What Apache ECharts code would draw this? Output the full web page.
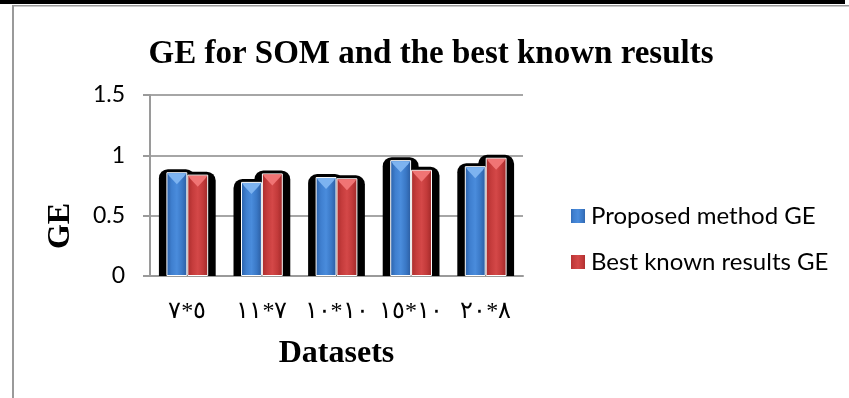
<!DOCTYPE html>
<html>
<head>
<meta charset="utf-8">
<style>
  html, body { margin: 0; padding: 0; background: #ffffff; }
  #chart { width: 849px; height: 398px; }
</style>
<script src="https://cdn.jsdelivr.net/npm/echarts@6/dist/echarts.min.js"></script>
</head>
<body>
<div id="chart"></div>
<script>
// Map sizes of the datasets (Arabic-Indic numerals)
const categories = ['٥*٧', '٧*١١', '١٠*١٠', '١٠*١٥', '٨*٢٠'];
const proposedGE = [0.86, 0.78, 0.82, 0.96, 0.91];
const bestKnownGE = [0.84, 0.85, 0.81, 0.88, 0.98];
const yTicks = { min: 0, max: 1.5, interval: 0.5 };

const seriesNames = ['Proposed method GE', 'Best known results GE'];
const BAR_FRAC = 0.28;   // width of one bar as a fraction of the category band

const chart = echarts.init(document.getElementById('chart'));

function hGrad(stops) {
  return new echarts.graphic.LinearGradient(0, 0, 1, 0,
    stops.map((c, i) => ({ offset: i / (stops.length - 1), color: c })));
}
const blueFill = hGrad(['#2a5fa6', '#3f7fcf', '#4a8cdc', '#3a78c6', '#2b5b9e']);
const redFill = hGrad(['#a82c2c', '#c53c3c', '#d44848', '#c23a3a', '#9e2828']);

// dark rounded halo drawn behind each bar
function shadowRenderer(side) {
  return function (params, api) {
    const band = api.size([1, 0])[0];
    const w = band * BAR_FRAC;
    const top = api.coord([api.value(0), api.value(1)]);
    const base = api.coord([api.value(0), 0]);
    const cx = top[0] + side * w / 2;
    const pad = 7.5;
    return {
      type: 'rect',
      shape: { x: cx - w / 2 - pad, y: top[1] - 3, width: w + 2 * pad, height: base[1] - top[1] + 3, r: [9, 9, 0, 0] },
      style: { fill: '#000000' }
    };
  };
}

// light bevel triangle at the top of each bar
function bevelRenderer(side, light) {
  return function (params, api) {
    const band = api.size([1, 0])[0];
    const w = band * BAR_FRAC;
    const top = api.coord([api.value(0), api.value(1)]);
    const cx = top[0] + side * w / 2;
    const l = cx - w / 2 + 1, r = cx + w / 2 - 1, y = top[1] + 1;
    return {
      type: 'polygon',
      shape: { points: [[l, y], [r, y], [r - 2, y + 3], [cx, y + 11], [l + 2, y + 3]] },
      style: { fill: light }
    };
  };
}

const idxData = (vals) => vals.map((v, i) => [i, v]);

chart.setOption({
  animation: false,
  backgroundColor: '#ffffff',
  title: {
    text: 'GE for SOM and the best known results',
    left: 426, top: 33, textAlign: 'center',
    textStyle: { fontFamily: 'Liberation Serif', fontWeight: 'bold', fontSize: 33, color: '#000000' }
  },
  legend: {
    orient: 'vertical',
    left: 564, top: 199,
    itemWidth: 16, itemHeight: 16, itemGap: 22,
    icon: 'rect',
    data: seriesNames,
    textStyle: { fontFamily: 'Lato', fontSize: 24, color: '#000000' }
  },
  grid: { left: 150, right: 326, top: 95, bottom: 122 },
  xAxis: {
    type: 'category',
    data: categories,
    name: 'Datasets',
    nameLocation: 'middle',
    nameGap: 62,
    nameTextStyle: { fontFamily: 'Liberation Serif', fontWeight: 'bold', fontSize: 32, color: '#000000' },
    axisLine: { lineStyle: { color: '#9a9a9a', width: 2 } },
    axisTick: { show: false },
    axisLabel: { interval: 0, hideOverlap: false, margin: 24, fontFamily: 'Liberation Serif', fontSize: 24, color: '#000000' }
  },
  yAxis: {
    type: 'value',
    min: yTicks.min, max: yTicks.max, interval: yTicks.interval,
    axisLine: { show: true, lineStyle: { color: '#9a9a9a', width: 2 } },
    axisTick: { show: true, length: 7, lineStyle: { color: '#9a9a9a', width: 2 } },
    splitLine: { lineStyle: { color: '#a6a6a6', width: 2 } },
    axisLabel: { margin: 25, fontFamily: 'Lato', fontSize: 23, color: '#000000' }
  },
  series: [
    { type: 'custom', name: 'halo-a', z: 1, silent: true, encode: { x: 0, y: 1 },
      data: idxData(proposedGE), renderItem: shadowRenderer(-1) },
    { type: 'custom', name: 'halo-b', z: 1, silent: true, encode: { x: 0, y: 1 },
      data: idxData(bestKnownGE), renderItem: shadowRenderer(1) },
    { type: 'bar', name: seriesNames[0], z: 3, barWidth: (BAR_FRAC * 100) + '%', barGap: '0%',
      data: proposedGE,
      itemStyle: { color: blueFill, borderColor: '#ffffff', borderWidth: 1 } },
    { type: 'bar', name: seriesNames[1], z: 3, barWidth: (BAR_FRAC * 100) + '%', barGap: '0%',
      data: bestKnownGE,
      itemStyle: { color: redFill, borderColor: '#ffffff', borderWidth: 1 } },
    { type: 'custom', name: 'bevel-a', z: 4, silent: true, encode: { x: 0, y: 1 },
      data: idxData(proposedGE), renderItem: bevelRenderer(-1, '#7db3f0') },
    { type: 'custom', name: 'bevel-b', z: 4, silent: true, encode: { x: 0, y: 1 },
      data: idxData(bestKnownGE), renderItem: bevelRenderer(1, '#f07474') }
  ],
  graphic: [
    { type: 'rect', left: 0, top: 0, shape: { width: 845, height: 4 }, style: { fill: '#000000' } },
    { type: 'rect', left: 12, top: 5, shape: { width: 837, height: 1.5 }, style: { fill: '#9a9a9a' } },
    { type: 'rect', left: 12, top: 5, shape: { width: 2, height: 393 }, style: { fill: '#9a9a9a' } },
    { type: 'text', x: 61, y: 226, rotation: Math.PI / 2,
      style: { text: 'GE', fontFamily: 'Liberation Serif', fontWeight: 'bold', fontSize: 32, fill: '#000000', align: 'center', verticalAlign: 'middle' } }
  ]
});
</script>
</body>
</html>
